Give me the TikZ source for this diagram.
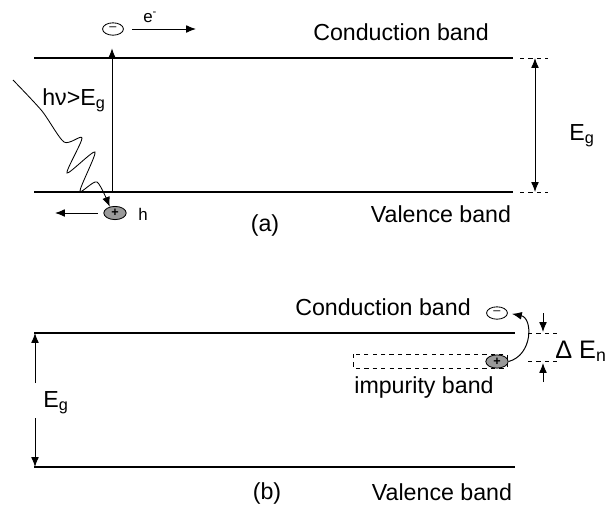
\documentclass[tikz,border=0pt]{standalone}
\usepackage{fontspec}
\setmainfont{Liberation Sans}
\usetikzlibrary{shapes.geometric, arrows.meta, positioning, calc}

\begin{document}
\begin{tikzpicture}[x=0.025cm, y=-0.025cm,
		band/.style={line width=0.9pt},
		band_ext/.style={dashed, line width=0.6pt},
		arrow/.style={-{Latex[length=7pt, width=5.5pt]}, line width=0.7pt},
		gap_arrow/.style={{Latex[length=7pt, width=5.5pt]}-{Latex[length=7pt, width=5.5pt]}, line width=0.7pt},
		txt/.style={font=\fontsize{16.5}{18}\selectfont, inner sep=0pt, anchor=base},
		small_txt/.style={font=\fontsize{12}{14}\selectfont, inner sep=0pt, anchor=base west},
		electron/.style={draw, ellipse, line width=0.6pt, minimum width=0.52cm, minimum height=0.31cm, inner sep=0pt, font=\fontsize{9}{9}\selectfont},
		hole/.style={draw, ellipse, line width=0.6pt, fill=gray!80, minimum width=0.56cm, minimum height=0.33cm, inner sep=0pt, font=\fontsize{9}{9}\selectfont\bfseries}
		]
		\useasboundingbox (0,0) rectangle (608,516);
		
		% Top: band-to-band excitation (a)
		\coordinate (cbA_l) at (34,58);
		\coordinate (cbA_r) at (513,58);
		\coordinate (vbA_l) at (34,192);
		\coordinate (vbA_r) at (513,192);
		\draw[band] (cbA_l) -- (cbA_r);
		\draw[band] (vbA_l) -- (vbA_r);
		\draw[band_ext] (cbA_r) ++(7,0) -- ++(28,0);
		\draw[band_ext] (vbA_r) ++(7,0) -- ++(28,0);
		
		\node[electron] (elA) at (113,29) {--};
		\node[hole] (hoA) at (115,213) {+};
		\coordinate (exA) at (112,192);
		\draw[arrow, shorten >=9pt] (exA) -- (exA |- elA.south);
		
		\coordinate (eA_end) at (196,29);
		\draw[arrow, shorten <=6pt] (elA.east) -- (eA_end);
		\node[small_txt] (eA) at (143,22) {e\textsuperscript{-}};
		
		\coordinate (hA_end) at (55,213);
		\draw[arrow, shorten <=4pt] (hoA.west) -- (hA_end);
		\node[small_txt] (hA) at (138,220) {h};
		
		\draw[line width=0.6pt, -{Latex[length=7pt, width=5.5pt]}] plot[smooth, tension=0.45]
			coordinates {(13,80) (42,111) (64,142) (82,138) (67,173) (95,152) (80,191) (97,182) (hoA.130)};
		\node[txt, anchor=base west] (hnuA) at (42,105) {hν>E\textsubscript{g}};
		
		\coordinate (egA_t) at (535,58);
		\coordinate (egA_b) at (535,192);
		\draw[gap_arrow] (egA_t) -- (egA_b);
		\node[txt, anchor=base west] (EgA) at (569,140) {E\textsubscript{g}};
		
		\node[txt] (cbA_lbl) at (401,40) {Conduction band};
		\node[txt] (vbA_lbl) at (441,222) {Valence band};
		\node[txt] (capA) at (265,231) {(a)};
		
		% Bottom: impurity band (b)
		\coordinate (cbB_l) at (34,333);
		\coordinate (cbB_r) at (515,333);
		\coordinate (vbB_l) at (34,467);
		\coordinate (vbB_r) at (515,467);
		\draw[band] (cbB_l) -- (cbB_r);
		\draw[band] (vbB_l) -- (vbB_r);
		\draw[band_ext] (528,333) -- (557,333);
		\draw[band_ext] (528,361) -- (557,361);
		\draw[band_ext] (353,354) rectangle (507,368);
		
		\node[hole] (hoB) at (497,361.5) {+};
		\node[electron] (elB) at (497,313) {--};
		\draw[arrow, shorten >=3pt] (hoB.east) .. controls (533,355) and (533,318) .. (elB.east);
		
		\coordinate (dnB_t) at (543,313);
		\coordinate (dnB_b) at (543,332);
		\coordinate (upB_b) at (543,382);
		\coordinate (upB_t) at (543,363);
		\draw[arrow] (dnB_t) -- (dnB_b);
		\draw[arrow] (upB_b) -- (upB_t);
		\node[txt, anchor=base west, font=\fontsize{18}{20}\selectfont] (dEn) at (555,358) {Δ E\textsubscript{n}};
		
		\node[txt, anchor=base west] (EgB) at (43,407) {E\textsubscript{g}};
		\coordinate (egB_t) at (35,333);
		\coordinate (egB_b) at (35,467);
		\coordinate (egB_m1) at (35,383);
		\coordinate (egB_m2) at (35,418);
		\draw[arrow] (egB_m1) -- (egB_t);
		\draw[arrow] (egB_m2) -- (egB_b);
		
		\node[txt] (cbB_lbl) at (383,315) {Conduction band};
		\node[txt] (imp_lbl) at (424,393) {impurity band};
		\node[txt] (vbB_lbl) at (442,500) {Valence band};
		\node[txt] (capB) at (267,499) {(b)};
		
	\end{tikzpicture}
\end{document}
